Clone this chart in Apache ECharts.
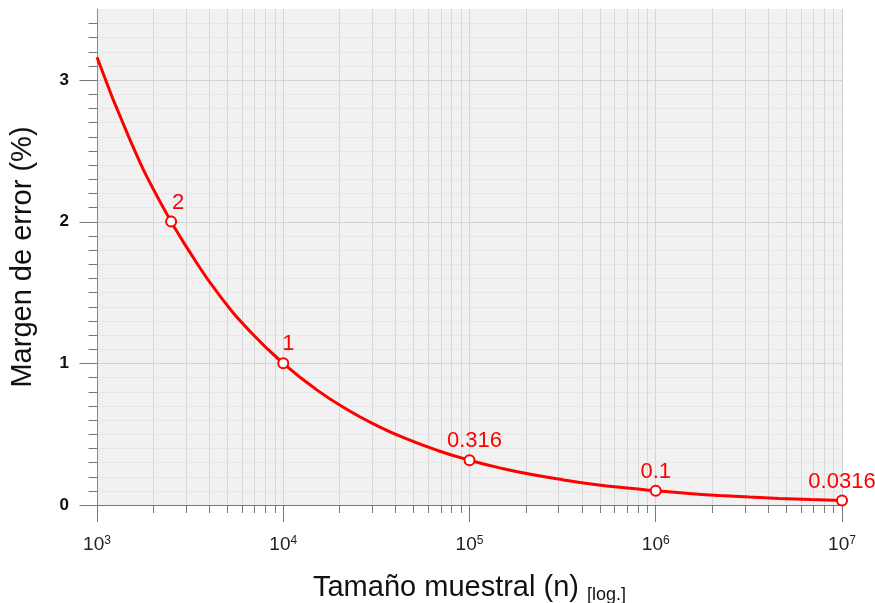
<!DOCTYPE html>
<html>
<head>
<meta charset="utf-8">
<script src="https://cdn.jsdelivr.net/npm/echarts@6/dist/echarts.min.js"></script>
<style>
html,body{margin:0;padding:0;background:#fff;}
#chart{width:875px;height:603px;}
</style>
</head>
<body>
<div id="chart"></div>
<script>
// Curve values (sample size n, margin of error %)
const sampleSizes = [1000, 1500, 2200, 3200, 4600, 6800, 10000, 15000, 22000, 32000, 46000, 68000, 100000, 150000, 220000, 320000, 460000, 680000, 1000000, 1500000, 2200000, 3200000, 4600000, 6800000, 10000000];
const marginValues = [3.16, 2.58, 2.13, 1.77, 1.47, 1.21, 1.0, 0.816, 0.674, 0.559, 0.466, 0.383, 0.316, 0.258, 0.213, 0.177, 0.147, 0.121, 0.1, 0.0816, 0.0674, 0.0559, 0.0466, 0.0383, 0.0316];

// Highlighted points
const pointSizes = [2500, 10000, 100000, 1000000, 10000000];
const pointValues = [2, 1, 0.316, 0.1, 0.0316];
const pointLabels = ['2', '1', '0.316', '0.1', '0.0316'];

// Axis ticks
const yTickLabels = ['0', '1', '2', '3'];
const xMinorMultipliers = [2, 3, 4, 5, 6, 7, 8, 9];
const xDecades = [1000, 10000, 100000, 1000000];

const xTitle = 'Tamaño muestral (n)';
const xTitleSmall = '[log.]';
const yTitle = 'Margen de error (%)';

const FONT = 'Liberation Sans, Arial, Helvetica, sans-serif';
const labelOffsets = [[7, 0], [5, 0], [5, 0], [0, 0], [0, 0]];

const xMinorTicks = [];
xDecades.forEach(d => xMinorMultipliers.forEach(m => xMinorTicks.push([d * m, 0])));
const yTicks = [];
for (let i = 0; i <= 34; i++) yTicks.push([1000, i / 10]);

const chart = echarts.init(document.getElementById('chart'), null, {renderer: 'canvas'});

const option = {
  animation: false,
  backgroundColor: '#ffffff',
  grid: {
    left: 97, right: 33, top: 9, bottom: 98,
    containLabel: false, outerBoundsMode: 'none',
    show: true, backgroundColor: '#f1f1f1', borderWidth: 0
  },
  xAxis: {
    type: 'log', logBase: 10, min: 1000, max: 10000000,
    name: xTitle + ' {s|' + xTitleSmall + '}',
    nameLocation: 'middle', nameGap: 67,
    nameTextStyle: {
      fontFamily: FONT, fontSize: 29, color: '#111', lineHeight: 32,
      rich: { s: {fontFamily: FONT, fontSize: 18, color: '#111', lineHeight: 20, verticalAlign: 'bottom'} }
    },
    axisLine: {show: true, lineStyle: {color: '#777', width: 1}},
    axisTick: {show: true, length: 17, lineStyle: {color: '#777', width: 1}},
    splitLine: {show: true, lineStyle: {color: '#d4d4d4', width: 1}},
    minorTick: {show: false},
    axisLabel: {
      margin: 30,
      formatter: function (v) {
        const e = Math.round(Math.log10(v));
        return '{b|10}{s|' + e + '}';
      },
      rich: {
        b: {fontFamily: FONT, fontSize: 19, color: '#222', lineHeight: 20},
        s: {fontFamily: FONT, fontSize: 12, color: '#222', lineHeight: 12, verticalAlign: 'top'}
      }
    }
  },
  yAxis: {
    type: 'value', min: 0, max: 3.5, interval: 1,
    name: yTitle, nameLocation: 'middle', nameGap: 60, nameRotate: 90,
    nameTextStyle: {fontFamily: FONT, fontSize: 29, color: '#111'},
    axisLine: {show: true, lineStyle: {color: '#888', width: 1}},
    axisTick: {show: false},
    splitLine: {show: false},
    axisLabel: {
      margin: 28, showMaxLabel: false,
      fontFamily: FONT, fontSize: 17, fontWeight: 'bold', color: '#111',
      formatter: function (v) {
        const idx = Math.round(v);
        return (Math.abs(v - idx) < 1e-6 && yTickLabels[idx] !== undefined) ? yTickLabels[idx] : '';
      }
    }
  },
  series: [
    {
      type: 'custom', z: 1, clip: false, silent: true,
      data: xMinorTicks,
      renderItem: function (params, api) {
        const p = api.coord([api.value(0), api.value(1)]);
        const cs = params.coordSys;
        const x = Math.round(p[0]) + 0.5;
        const bottom = cs.y + cs.height;
        return {type: 'group', children: [
          {type: 'line', shape: {x1: x, y1: cs.y, x2: x, y2: bottom}, style: {stroke: '#d8d8d8', lineWidth: 1}},
          {type: 'line', shape: {x1: x, y1: bottom, x2: x, y2: bottom + 8}, style: {stroke: '#777', lineWidth: 1}}
        ]};
      }
    },
    {
      type: 'custom', z: 1, clip: false, silent: true,
      data: yTicks,
      renderItem: function (params, api) {
        const v = api.value(1);
        const p = api.coord([api.value(0), v]);
        const cs = params.coordSys;
        const y = Math.round(p[1]) + 0.5;
        const major = Math.abs(v - Math.round(v)) < 1e-6;
        const children = [];
        if (v > 1e-6) {
          children.push({type: 'line', shape: {x1: cs.x + 1, y1: y, x2: cs.x + cs.width, y2: y},
            style: {stroke: major ? '#d4d4d4' : '#e7e7e7', lineWidth: 1}});
        }
        const x0 = Math.round(cs.x) + 0.5;
        children.push({type: 'line', shape: {x1: x0 - (major ? 18 : 9), y1: y, x2: x0, y2: y},
          style: {stroke: '#777', lineWidth: 1}});
        return {type: 'group', children: children};
      }
    },
    {
      type: 'line', z: 3,
      data: sampleSizes.map((n, i) => [n, marginValues[i]]),
      smooth: 0.5,
      showSymbol: false,
      lineStyle: {color: '#ff0000', width: 3},
      silent: true
    },
    {
      type: 'scatter', z: 4,
      data: pointSizes.map((n, i) => ({
        value: [n, pointValues[i]],
        label: {offset: labelOffsets[i], formatter: pointLabels[i]}
      })),
      symbol: 'circle', symbolSize: 10,
      itemStyle: {color: '#ffffff', borderColor: '#ff0000', borderWidth: 2, opacity: 1},
      label: {show: true, position: 'top', distance: 2, fontFamily: FONT, fontSize: 22, color: '#ff0000'},
      silent: true
    }
  ]
};
chart.setOption(option);
</script>
</body>
</html>
